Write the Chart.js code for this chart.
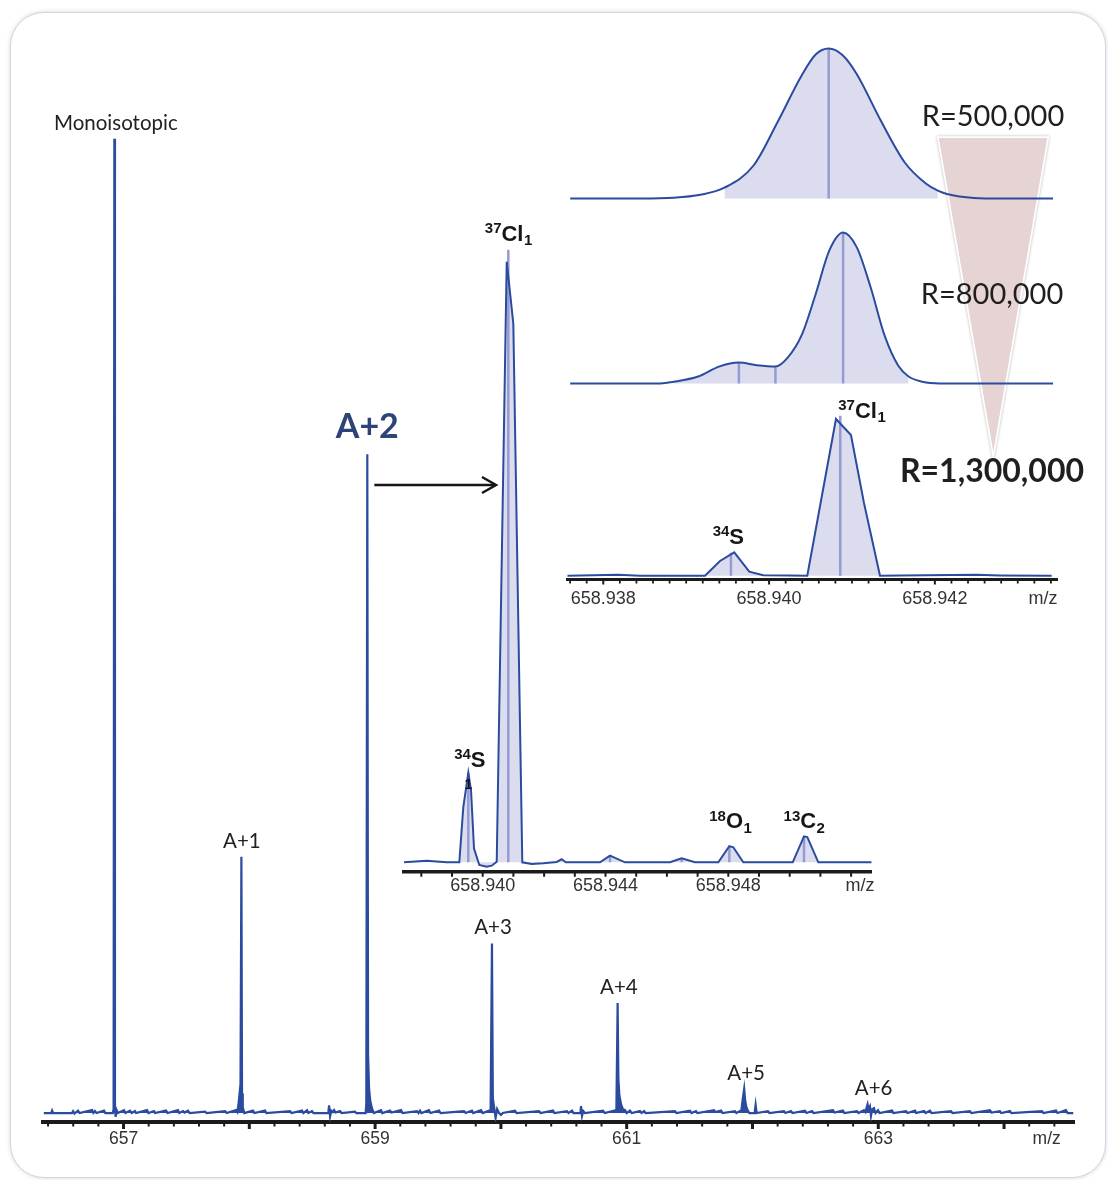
<!DOCTYPE html>
<html>
<head>
<meta charset="utf-8">
<script src="https://cdn.jsdelivr.net/npm/chart.js@4.4.1/dist/chart.umd.min.js"></script>
<style>
  html, body { margin: 0; padding: 0; background: #ffffff; }
  #stage { position: relative; width: 1108px; height: 1180px; overflow: hidden; }
  #card {
    position: absolute; left: 10px; top: 12px; width: 1096px; height: 1166px;
    box-sizing: border-box; border: 1.5px solid #d0d7e0; border-radius: 34px;
    box-shadow: 0 0 4px rgba(110, 120, 140, 0.3); background: #ffffff;
  }
  canvas { position: absolute; }
</style>
</head>
<body>
<div id="stage">
  <div id="card"></div>
  <canvas id="main" width="1108" height="1180" style="left:0px;top:0px"></canvas>
  <canvas id="zoomA2" width="520" height="702" style="left:380px;top:200px"></canvas>
  <canvas id="r500" width="510" height="176" style="left:560px;top:30px"></canvas>
  <canvas id="r800" width="510" height="176" style="left:560px;top:215px"></canvas>
  <canvas id="r1300" width="510" height="219" style="left:560px;top:390px"></canvas>
</div>
<script>
// ---------------- Full-range spectrum (relative intensity, monoisotopic = 100) ----------------
const mainMz = [
  656.365, 656.425, 656.432, 656.440, 656.590, 656.599, 656.610, 656.638, 656.650, 656.750,
  656.760, 656.773, 656.785, 656.845, 656.855, 656.915, 656.921, 656.927, 656.932, 656.937,
  656.945, 656.955, 657.004, 657.015, 657.052, 657.065, 657.091, 657.100, 657.187, 657.198,
  657.242, 657.250, 657.338, 657.350, 657.433, 657.443, 657.473, 657.485, 657.513, 657.525,
  657.648, 657.660, 657.807, 657.820, 657.894, 657.905, 657.914, 657.930, 657.937, 657.942,
  657.948, 657.960, 658.029, 658.040, 658.125, 658.135, 658.323, 658.335, 658.419, 658.430,
  658.459, 658.470, 658.498, 658.510, 658.628, 658.634, 658.642, 658.652, 658.664, 658.674,
  658.686, 658.721, 658.733, 658.840, 658.850, 658.925, 658.930, 658.938, 658.944, 658.952,
  658.962, 658.975, 658.990, 659.047, 659.057, 659.118, 659.130, 659.206, 659.218, 659.333,
  659.345, 659.357, 659.368, 659.428, 659.440, 659.508, 659.520, 659.707, 659.720, 659.770,
  659.780, 659.842, 659.855, 659.918, 659.929, 659.936, 659.946, 659.958, 659.970, 659.985,
  660.001, 660.015, 660.112, 660.125, 660.303, 660.315, 660.414, 660.425, 660.525, 660.537,
  660.565, 660.577, 660.632, 660.637, 660.645, 660.655, 660.668, 660.812, 660.825, 660.918,
  660.928, 660.934, 660.942, 660.955, 660.970, 660.987, 661.000, 661.026, 661.040, 661.106,
  661.118, 661.138, 661.150, 661.384, 661.395, 661.503, 661.515, 661.551, 661.562, 661.694,
  661.705, 661.750, 661.762, 661.861, 661.872, 661.912, 661.922, 661.934, 661.942, 661.952,
  661.965, 661.975, 662.017, 662.025, 662.033, 662.123, 662.135, 662.250, 662.262, 662.306,
  662.318, 662.417, 662.430, 662.473, 662.485, 662.640, 662.652, 662.719, 662.730, 662.831,
  662.843, 662.886, 662.898, 662.908, 662.915, 662.922, 662.934, 662.942, 662.952, 662.966,
  662.978, 662.998, 663.010, 663.109, 663.120, 663.221, 663.232, 663.292, 663.300, 663.364,
  663.376, 663.411, 663.423, 663.578, 663.590, 663.729, 663.740, 663.888, 663.900, 663.967,
  663.978, 664.047, 664.058, 664.301, 664.313, 664.413, 664.425, 664.492, 664.505, 664.550
];
const mainIntensity = [
  0, 0, 0.25, 0, 0, 0.2, -0.05, 0.25, 0, 0.3,
  0, 0.2, 0, 0.25, 0, 0, 0.4, 100, 0.8, -0.4,
  0.3, 0, 0.3, 0, 0.25, 0, 0.2, 0, 0.3, 0,
  0.2, 0, 0.25, 0, 0.3, 0, 0.2, 0.05, 0.25, 0,
  0.15, 0, 0.2, 0, 0.3, 0.1, 0.9, 3, 26.3, 2,
  0.6, 0, 0.25, 0, 0.25, 0, 0.2, 0, 0.25, 0,
  0.3, 0, 0.2, 0, 0, 0.8, -0.35, 0.25, 0.1, 0.3,
  0.05, 0.2, 0, 0.15, 0, 0, 1.0, 67.6, 6, 2.5,
  1.2, 0.5, 0, 0.3, 0, 0.25, 0.05, 0.3, 0, 0.2,
  0, 0.25, 0, 0.3, 0, 0.25, 0, 0.2, 0, 0.25,
  0, 0.3, 0, 0.3, 17.4, 1.5, 0.6, -0.5, 0.4, 0,
  -0.2, 0, 0.25, 0, 0.2, 0, 0.25, 0, 0.2, 0,
  0.25, 0, 0, 0.7, -0.3, 0.2, 0, 0.25, 0, 0.3,
  11.3, 3.5, 1.8, 0.9, 0.4, 0.3, 0, 0.25, 0, 0.2,
  0, 0.2, 0, 0.2, 0, 0.25, 0, 0.2, 0, 0.3,
  0.1, 0.25, 0, 0.2, 0, 0.3, 1.4, 2.5, 1.3, 0.6,
  0.2, 0, 0, 0.85, 0, 0.2, 0, 0.2, 0, 0.2,
  0, 0.25, 0, 0.2, 0, 0.3, 0.05, 0.25, 0, 0.2,
  0, 0.3, 0.1, 0.6, 0.9, 0.4, 0.7, -0.3, 0.4, 0.5,
  0, 0.3, 0, 0.25, 0, 0.2, 0, 0.25, 0, 0.2,
  0, 0.25, 0, 0.2, 0, 0.2, 0, 0.3, 0.05, 0.2,
  0, 0.2, 0, 0.2, 0, 0.25, 0, 0.3, 0, 0
];
const peakNames = ['Monoisotopic', 'A+1', 'A+2', 'A+3', 'A+4', 'A+5', 'A+6'];
const peakMz = [656.927, 657.937, 658.938, 659.929, 660.928, 661.934, 662.915];
const peakIntensity = [100, 26.3, 67.6, 17.4, 11.3, 2.5, 0.9];

// ---------------- A+2 fine structure (relative intensity, 37Cl = 100) ----------------
const a2Mz = [
  658.937436, 658.938176, 658.938827, 658.939238, 658.939368, 658.939531, 658.939619, 658.939717,
  658.939889, 658.940130, 658.940293, 658.940456, 658.940782, 658.940997, 658.941290, 658.941596,
  658.941974, 658.942410, 658.942573, 658.942704, 658.943821, 658.944147, 658.944635, 658.946101,
  658.946482, 658.946915, 658.947674, 658.948033, 658.948163, 658.948489, 658.950098, 658.950466,
  658.950573, 658.950932, 658.952671
];
const a2Intensity = [
  0, 0.27, 0, 0, 9.2, 14.9, 12.0, 2.3,
  -0.45, -0.73, -0.56, 0.1, 100, 89.7, 0, -0.28,
  -0.17, 0.05, 0.5, 0, 0, 1.1, 0, 0,
  0.67, 0, 0, 2.7, 2.5, 0, 0, 4.33,
  4.2, 0, 0
];
const a2CentroidMz = [658.939531, 658.940834, 658.944147, 658.946482, 658.948033, 658.950466];
const a2CentroidIntensity = [14.9, 102, 1.1, 0.67, 2.7, 4.3];
const a2LabelSup = ['34', '37', '18', '13'];
const a2LabelEl = ['S', 'Cl', 'O', 'C'];
const a2LabelSub = ['', '1', '1', '2'];
const a2LabelMz = [658.939531, 658.940834, 658.948033, 658.950466];

// ---------------- Same region at three resolving powers ----------------
const r500Mz = [
  658.937601, 658.938447, 658.938846, 658.939172, 658.939462, 658.939813, 658.940103, 658.940393,
  658.940562, 658.940719, 658.940888, 658.941057, 658.941347, 658.941637, 658.941891, 658.942036,
  658.942145, 658.942471, 658.942798, 658.943426
];
const r500Intensity = [0, 0, 0.5, 2.5, 7.2, 22, 51, 82, 96, 100, 95.5, 83, 52, 24, 10, 5.2, 3, 0.4, 0, 0];
const r500FillRange = [658.939462, 658.942036];
const r500CentroidMz = [658.940719];
const r500CentroidIntensity = [100];

const r800Mz = [
  658.937601, 658.938689, 658.938853, 658.939144, 658.939395, 658.939636, 658.939853, 658.940077,
  658.940227, 658.940393, 658.940560, 658.940726, 658.940893, 658.941057, 658.941227, 658.941392,
  658.941559, 658.941683, 658.941850, 658.942058, 658.943426
];
const r800Intensity = [0, 0, 1.1, 4.6, 11.2, 13.9, 12.1, 11.2, 17.3, 32, 58.8, 88, 100, 90.3, 63.4, 32, 11.7, 4.6, 1.1, 0, 0];
const r800FillRange = [658.938853, 658.941683];
const r800CentroidMz = [658.939636, 658.940077, 658.940893];
const r800CentroidIntensity = [13.9, 11.2, 100];

const r1300Mz = [
  658.937566, 658.938181, 658.938443, 658.939227, 658.939408, 658.939580, 658.939761, 658.939930,
  658.940252, 658.940461, 658.940807, 658.940988, 658.941145, 658.941338, 658.941579, 658.942504,
  658.942785, 658.943409
];
const r1300Intensity = [0, 0.6, 0, 0, 9.4, 14.9, 2.6, 0.3, 0.15, 0, 100, 89.8, 46.4, 0, 0.2, 0.6, 0.2, 0];
const r1300CentroidMz = [658.939540, 658.940859];
const r1300CentroidIntensity = [14.6, 102];
const r1300LabelSup = ['34', '37'];
const r1300LabelEl = ['S', 'Cl'];
const r1300LabelSub = ['', '1'];
const resolutionLabels = ['R=500,000', 'R=800,000', 'R=1,300,000'];

// ---------------- Styling ----------------
const LINE_BLUE = '#2b4b9f';
const FILL_LAVENDER = '#dcdcef';
const STICK_LILAC = '#959bd2';
const AXIS_BLACK = '#1b1b1b';
const TICK_GREY = '#333333';
const SANS = '"Liberation Sans", Arial, sans-serif';
Chart.defaults.font.family = SANS;

function points(xs, ys) { return xs.map((x, i) => ({ x: x, y: ys[i] })); }
function sticks(xs, ys) {
  const out = [];
  xs.forEach((x, i) => { out.push({ x: x, y: 0 }, { x: x, y: ys[i] }, { x: x, y: null }); });
  return out;
}

// tick marks below the axis line, major ones longer
function makeTickMarks(isMajor, majorLen, minorLen, majorW, minorW, half) {
  return {
    id: 'tickMarks',
    afterDraw(chart) {
      const s = chart.scales.x, ctx = chart.ctx;
      ctx.save();
      ctx.strokeStyle = AXIS_BLACK;
      s.ticks.forEach(t => {
        const major = isMajor(t.value);
        const px = s.getPixelForValue(t.value);
        ctx.lineWidth = major ? majorW : minorW;
        ctx.beginPath();
        ctx.moveTo(px, s.top);
        ctx.lineTo(px, s.top + half + (major ? majorLen : minorLen));
        ctx.stroke();
      });
      ctx.restore();
    }
  };
}

// unit caption placed on the tick-label row at the right end of the axis
function axisUnit(label, dx) {
  return {
    id: 'axisUnit',
    afterDraw(chart) {
      const s = chart.scales.x, ctx = chart.ctx, t = s.options.ticks;
      ctx.save();
      ctx.font = t.font.size + 'px ' + SANS;
      ctx.fillStyle = TICK_GREY;
      ctx.textAlign = 'center';
      ctx.textBaseline = 'middle';
      ctx.fillText(label, chart.chartArea.right + dx, s.top + t.padding + t.font.size * 0.6);
      ctx.restore();
    }
  };
}

function drawIso(ctx, x, y, sup, el, sub, size, align) {
  const big = 'bold ' + size + 'px ' + SANS;
  const small = 'bold ' + Math.round(size * 0.66) + 'px ' + SANS;
  ctx.font = small;
  const wSup = ctx.measureText(sup).width;
  const wSub = sub ? ctx.measureText(sub).width : 0;
  ctx.font = big;
  const wEl = ctx.measureText(el).width;
  const total = wSup + wEl + wSub;
  const x0 = align === 'left' ? x : x - total / 2;
  ctx.textAlign = 'left';
  ctx.textBaseline = 'alphabetic';
  ctx.fillStyle = '#161616';
  ctx.font = small; ctx.fillText(sup, x0, y - size * 0.36);
  ctx.font = big; ctx.fillText(el, x0 + wSup, y);
  if (sub) { ctx.font = small; ctx.fillText(sub, x0 + wSup + wEl + 0.5, y + size * 0.2); }
}

const baseOptions = (padding, xmin, xmax, ymin, ymax) => ({
  responsive: false, animation: false, devicePixelRatio: 1,
  layout: { padding: padding },
  plugins: { legend: { display: false }, tooltip: { enabled: false }, title: { display: false } },
  elements: { point: { radius: 0, hoverRadius: 0 } },
  scales: {
    x: { type: 'linear', min: xmin, max: xmax, display: false },
    y: { type: 'linear', min: ymin, max: ymax, display: false }
  }
});

const shownAxis = (step, size, pad, cb, height) => ({
  display: true,
  afterFit(s) { s.height = height; },
  border: { display: true, color: AXIS_BLACK, width: 3.5 },
  grid: { display: true, drawOnChartArea: false, drawTicks: false, color: 'rgba(0,0,0,0)' },
  ticks: {
    stepSize: step, autoSkip: false, maxRotation: 0, minRotation: 0, includeBounds: false,
    maxTicksLimit: 1000, padding: pad, color: TICK_GREY, font: { size: size, family: SANS },
    callback: cb
  }
});

// ---------------- Main spectrum ----------------
const mainLabels = {
  id: 'mainLabels',
  afterDraw(chart) {
    const ctx = chart.ctx, xs = chart.scales.x, ys = chart.scales.y;
    ctx.save();
    // resolving-power wedge
    ctx.beginPath();
    ctx.moveTo(938.8, 138); ctx.lineTo(1047.3, 138); ctx.lineTo(993.3, 451.7); ctx.closePath();
    ctx.shadowColor = 'rgba(0,0,0,0.3)'; ctx.shadowBlur = 3;
    ctx.strokeStyle = '#ffffff'; ctx.lineWidth = 3.5; ctx.stroke();
    ctx.shadowColor = 'rgba(0,0,0,0)'; ctx.shadowBlur = 0;
    ctx.fillStyle = '#e6d3d3'; ctx.fill();

    // resolving-power captions
    ctx.fillStyle = '#1f1f1f'; ctx.textAlign = 'center'; ctx.textBaseline = 'alphabetic';
    ctx.font = '29px Lato'; ctx.fillText(resolutionLabels[0], 993, 126);
    ctx.fillText(resolutionLabels[1], 992, 304);
    ctx.font = 'bold 32px Lato'; ctx.fillText(resolutionLabels[2], 992, 482);

    // peak labels
    const dx = [1.5, 0.5, 0, 1, 1.3, 2, 6];
    peakNames.forEach((name, i) => {
      const x = xs.getPixelForValue(peakMz[i]) + dx[i];
      const y = ys.getPixelForValue(peakIntensity[i]);
      if (name === 'A+2') {
        ctx.font = 'bold 34px Lato'; ctx.fillStyle = '#2e4478';
        ctx.fillText(name, x, y - 16);
      } else {
        ctx.font = '20.5px Lato'; ctx.fillStyle = '#222222';
        ctx.fillText(name, x, y - 9);
      }
    });

    // arrow from A+2 to its zoomed view
    const ax = xs.getPixelForValue(peakMz[2]) + 7;
    ctx.strokeStyle = '#161616'; ctx.lineWidth = 2.5;
    ctx.beginPath(); ctx.moveTo(ax, 485); ctx.lineTo(495.5, 485); ctx.stroke();
    ctx.beginPath(); ctx.moveTo(482, 477); ctx.lineTo(496, 485); ctx.lineTo(482, 493); ctx.stroke();
    ctx.restore();
  }
};

const mainOpts = baseOptions({ left: 43.4, right: 34, top: 138.5, bottom: 18 }, 656.363, 664.556, -0.92, 100);
mainOpts.scales.x = Object.assign({ type: 'linear', min: 656.363, max: 664.556 },
  shownAxis(0.2, 17.5, 7, v => {
    const r = Math.round(v);
    return (Math.abs(v - r) < 1e-6 && Math.abs(r % 2) === 1) ? String(r) : '';
  }, 40));
mainOpts.scales.x.border.width = 4;

new Chart(document.getElementById('main'), {
  type: 'line',
  data: { datasets: [{
    data: points(mainMz, mainIntensity), borderColor: LINE_BLUE, backgroundColor: LINE_BLUE,
    borderWidth: 2.2, fill: 'origin', tension: 0, pointRadius: 0
  }] },
  options: mainOpts,
  plugins: [
    makeTickMarks(v => Math.abs(v - Math.round(v)) < 1e-6, 5, 2.5, 3, 2, 2),
    axisUnit('m/z', -27.3),
    mainLabels
  ]
});

// ---------------- A+2 zoom ----------------
const a2Opts = baseOptions({ left: 24, right: 28.3, top: 37.7, bottom: 0 }, 658.937436, 658.952671, -1.615, 104);
a2Opts.scales.x = Object.assign({ type: 'linear', min: 658.937436, max: 658.952671 },
  shownAxis(0.001, 18, 3, v => {
    const k = Math.round(v * 1000);
    return (Math.abs(v * 1000 - k) < 1e-3 && k % 4 === 0 && v < 658.951) ? v.toFixed(3) : '';
  }, 30));

const a2Labels = {
  id: 'a2Labels',
  afterDraw(chart) {
    const ctx = chart.ctx, xs = chart.scales.x, ys = chart.scales.y;
    ctx.save();
    const yTop = i => ys.getPixelForValue(a2CentroidIntensity[a2CentroidMz.indexOf(a2LabelMz[i])]);
    drawIso(ctx, xs.getPixelForValue(a2LabelMz[0]) + 1.5, yTop(0) - 6, a2LabelSup[0], a2LabelEl[0], a2LabelSub[0], 22, 'center');
    ctx.font = 'bold 14px ' + SANS; ctx.textAlign = 'center'; ctx.fillStyle = '#161616';
    ctx.fillText('1', xs.getPixelForValue(a2LabelMz[0]), yTop(0) + 16);
    drawIso(ctx, xs.getPixelForValue(a2LabelMz[1]), yTop(1) - 9, a2LabelSup[1], a2LabelEl[1], a2LabelSub[1], 22, 'center');
    const yRow = yTop(3) - 8;
    drawIso(ctx, xs.getPixelForValue(a2LabelMz[2]) + 1, yRow, a2LabelSup[2], a2LabelEl[2], a2LabelSub[2], 22, 'center');
    drawIso(ctx, xs.getPixelForValue(a2LabelMz[3]), yRow, a2LabelSup[3], a2LabelEl[3], a2LabelSub[3], 22, 'center');
    ctx.restore();
  }
};

new Chart(document.getElementById('zoomA2'), {
  type: 'line',
  data: { datasets: [
    { data: points(a2Mz, a2Intensity), borderColor: LINE_BLUE, borderWidth: 2, fill: false, tension: 0, order: 0 },
    { data: sticks(a2CentroidMz, a2CentroidIntensity), borderColor: STICK_LILAC, borderWidth: 2.5, fill: false, spanGaps: false, order: 1 },
    { data: points(a2Mz, a2Intensity), borderWidth: 0, borderColor: 'rgba(0,0,0,0)', backgroundColor: FILL_LAVENDER, fill: 'origin', tension: 0, order: 2 }
  ] },
  options: a2Opts,
  plugins: [makeTickMarks(() => false, 3, 3, 2, 2, 1.75), axisUnit('m/z', -11.7), a2Labels]
});

// ---------------- Resolving-power traces ----------------
function profileChart(id, padding, mz, inten, fillRange, cMz, cInt, ymin, ymax) {
  const inRange = mz.map((m, i) => ({ x: m, y: inten[i] })).filter(p => p.x >= fillRange[0] - 1e-9 && p.x <= fillRange[1] + 1e-9);
  return new Chart(document.getElementById(id), {
    type: 'line',
    data: { datasets: [
      { data: points(mz, inten), borderColor: LINE_BLUE, borderWidth: 2, fill: false, cubicInterpolationMode: 'monotone', order: 0 },
      { data: sticks(cMz, cInt), borderColor: STICK_LILAC, borderWidth: 2.5, fill: false, spanGaps: false, order: 1 },
      { data: inRange, borderWidth: 0, borderColor: 'rgba(0,0,0,0)', backgroundColor: FILL_LAVENDER, fill: 'origin', cubicInterpolationMode: 'monotone', order: 2 }
    ] },
    options: baseOptions(padding, 658.937566, 658.943477, ymin, ymax)
  });
}
profileChart('r500', { left: 7.3, right: 12.7, top: 11, bottom: 3 }, r500Mz, r500Intensity, r500FillRange, r500CentroidMz, r500CentroidIntensity, -3, 105);
profileChart('r800', { left: 7.3, right: 12.7, top: 9.95, bottom: 2.97 }, r800Mz, r800Intensity, r800FillRange, r800CentroidMz, r800CentroidIntensity, -3, 105);

const r1300Opts = baseOptions({ left: 7.3, right: 12.7, top: 19.6, bottom: 0 }, 658.937566, 658.943477, -2.1, 106);
r1300Opts.scales.x = Object.assign({ type: 'linear', min: 658.937566, max: 658.943477 },
  shownAxis(0.0002, 18, 9.5, v => {
    const k = Math.round(v * 10000);
    return (Math.abs(v * 10000 - k) < 1e-2 && k % 20 === 0 && v < 658.943) ? v.toFixed(3) : '';
  }, 30));
r1300Opts.scales.x.border.width = 3;

const r1300Labels = {
  id: 'r1300Labels',
  afterDraw(chart) {
    const ctx = chart.ctx, xs = chart.scales.x, ys = chart.scales.y;
    ctx.save();
    drawIso(ctx, xs.getPixelForValue(r1300CentroidMz[0]) - 2.6, ys.getPixelForValue(r1300CentroidIntensity[0]) - 9,
      r1300LabelSup[0], r1300LabelEl[0], r1300LabelSub[0], 22, 'center');
    drawIso(ctx, xs.getPixelForValue(r1300CentroidMz[1]) - 2, ys.getPixelForValue(r1300CentroidIntensity[1]) + 2,
      r1300LabelSup[1], r1300LabelEl[1], r1300LabelSub[1], 22, 'left');
    ctx.restore();
  }
};

new Chart(document.getElementById('r1300'), {
  type: 'line',
  data: { datasets: [
    { data: points(r1300Mz, r1300Intensity), borderColor: LINE_BLUE, borderWidth: 2, fill: false, tension: 0, order: 0 },
    { data: sticks(r1300CentroidMz, r1300CentroidIntensity), borderColor: STICK_LILAC, borderWidth: 2.5, fill: false, spanGaps: false, order: 1 },
    { data: points(r1300Mz, r1300Intensity), borderWidth: 0, borderColor: 'rgba(0,0,0,0)', backgroundColor: FILL_LAVENDER, fill: 'origin', tension: 0, order: 2 }
  ] },
  options: r1300Opts,
  plugins: [
    makeTickMarks(v => { const k = Math.round(v * 10000); return k % 20 === 0; }, 4, 3, 2, 1.8, 1.5),
    axisUnit('m/z', -14.3),
    r1300Labels
  ]
});
</script>
</body>
</html>
